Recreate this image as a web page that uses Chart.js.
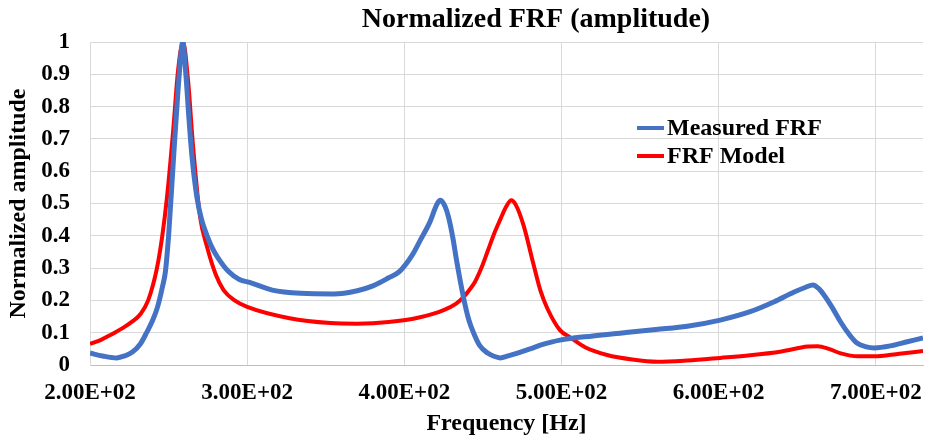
<!DOCTYPE html>
<html>
<head>
<meta charset="utf-8">
<script src="https://cdn.jsdelivr.net/npm/chart.js@4.4.0/dist/chart.umd.min.js"></script>
<style>
  html, body { margin: 0; padding: 0; background: #fff; }
  #wrap { width: 927px; height: 440px; position: relative; }
</style>
</head>
<body>
<div id="wrap"><canvas id="frfChart"></canvas></div>
<script>
// Measured FRF
const measuredFreq = [200, 208, 217, 222, 227, 232, 236, 240, 243, 246, 248, 250, 253, 256, 258, 259, 261, 263, 265, 268, 271, 274.5, 278, 281, 288, 295, 302, 316, 334, 355, 370, 380, 390, 397, 405, 410, 416, 421, 423, 426, 428, 431, 433, 437.6, 441, 444, 448, 453, 457, 461, 466, 472, 480, 487, 499, 520, 540, 560, 580, 601, 620, 635, 648, 655, 660, 664, 667, 672, 678, 683, 688, 694, 699, 710, 720, 730];
const measuredAmp = [0.037, 0.028, 0.022, 0.028, 0.04, 0.065, 0.10, 0.14, 0.18, 0.24, 0.29, 0.40, 0.63, 0.85, 0.97, 1.0, 0.9, 0.76, 0.64, 0.52, 0.45, 0.40, 0.36, 0.335, 0.29, 0.265, 0.255, 0.232, 0.222, 0.22, 0.23, 0.245, 0.27, 0.29, 0.34, 0.385, 0.44, 0.50, 0.51, 0.49, 0.46, 0.39, 0.33, 0.21, 0.14, 0.10, 0.06, 0.037, 0.027, 0.022, 0.028, 0.037, 0.05, 0.062, 0.077, 0.09, 0.10, 0.11, 0.12, 0.139, 0.165, 0.195, 0.226, 0.24, 0.248, 0.235, 0.217, 0.18, 0.13, 0.095, 0.068, 0.056, 0.053, 0.06, 0.072, 0.084];

// FRF model
const modelFreq = [200, 207, 213, 221, 227, 232, 237, 242.6, 246, 249, 253, 256, 259.2, 262.4, 265.6, 270, 274.5, 280, 285, 292, 300, 327, 353, 370, 390, 410, 425, 433, 437.6, 441, 445, 449, 453, 457, 461, 465, 468, 471, 476, 482, 486.6, 491, 499, 505.7, 515, 529, 545, 561, 580, 601, 620, 640, 656.7, 663, 670, 677.7, 688.5, 698.7, 715, 730];
const modelAmp = [0.065, 0.078, 0.093, 0.115, 0.135, 0.157, 0.2, 0.3, 0.4, 0.52, 0.73, 0.91, 1.0, 0.88, 0.675, 0.46, 0.365, 0.28, 0.232, 0.2, 0.18, 0.145, 0.13, 0.128, 0.133, 0.148, 0.17, 0.19, 0.21, 0.23, 0.258, 0.3, 0.352, 0.405, 0.45, 0.492, 0.51, 0.495, 0.43, 0.315, 0.23, 0.175, 0.108, 0.085, 0.055, 0.031, 0.017, 0.01, 0.014, 0.022, 0.03, 0.042, 0.057, 0.058, 0.05, 0.036, 0.027, 0.027, 0.035, 0.043];

const seriesLabels = ["Measured FRF", "FRF Model"];
const chartTitle = "Normalized FRF (amplitude)";
const xTitle = "Frequency [Hz]";
const yTitle = "Normalized amplitude";

const serif = "'Liberation Serif', 'Times New Roman', serif";

function toPoints(xs, ys) {
  return xs.map((x, i) => ({ x: x, y: ys[i] }));
}

// 2.00E+02 style labels
function sciLabel(v) {
  const parts = Number(v).toExponential(2).split("e");
  const exp = parseInt(parts[1], 10);
  const sign = exp < 0 ? "-" : "+";
  return parts[0] + "E" + sign + String(Math.abs(exp)).padStart(2, "0");
}

// title + in-plot legend
const overlay = {
  id: "overlay",
  afterDraw(chart) {
    const ctx = chart.ctx;
    ctx.save();
    ctx.fillStyle = "#000";
    ctx.font = "bold 28px " + serif;
    ctx.textAlign = "center";
    ctx.textBaseline = "middle";
    ctx.fillText(chartTitle, 536, 20);

    ctx.font = "bold 24px " + serif;
    ctx.textAlign = "left";
    chart.data.datasets.forEach((ds, i) => {
      const y = 128 + i * 28;
      ctx.strokeStyle = ds.borderColor;
      ctx.lineWidth = 4;
      ctx.beginPath();
      ctx.moveTo(637, y);
      ctx.lineTo(664, y);
      ctx.stroke();
      ctx.fillText(ds.label, 667, y + 1);
    });
    ctx.restore();
  }
};

const ctx = document.getElementById("frfChart").getContext("2d");
new Chart(ctx, {
  type: "line",
  data: {
    datasets: [
      {
        label: seriesLabels[0],
        data: toPoints(measuredFreq, measuredAmp),
        borderColor: "#4472C4",
        borderWidth: 5,
        pointRadius: 0,
        cubicInterpolationMode: "monotone"
      },
      {
        label: seriesLabels[1],
        data: toPoints(modelFreq, modelAmp),
        borderColor: "#FF0000",
        borderWidth: 4,
        pointRadius: 0,
        cubicInterpolationMode: "monotone"
      }
    ]
  },
  options: {
    responsive: true,
    maintainAspectRatio: false,
    animation: false,
    layout: { padding: { top: 42, right: 4, left: 0, bottom: 0 } },
    plugins: {
      legend: { display: false },
      title: { display: false },
      tooltip: { enabled: false }
    },
    scales: {
      x: {
        type: "linear",
        min: 200,
        max: 730,
        afterBuildTicks(scale) {
          const out = [];
          for (let v = 200; v <= 700; v += 100) out.push({ value: v });
          scale.ticks = out;
        },
        afterFit(scale) {
          scale.height = 75;
          scale.paddingLeft = 0;
          scale.paddingRight = 0;
        },
        ticks: {
          stepSize: 100,
          padding: 14,
          color: "#000",
          maxRotation: 0,
          autoSkip: false,
          font: { family: serif, size: 23, weight: "bold" },
          callback: v => sciLabel(v)
        },
        grid: { color: "#d9d9d9", lineWidth: 1, drawTicks: false },
        border: { color: "#bfbfbf", width: 1 },
        title: {
          display: true,
          text: xTitle,
          color: "#000",
          font: { family: serif, size: 24, weight: "bold" },
          padding: { top: 0, bottom: 2 }
        }
      },
      y: {
        min: 0,
        max: 1,
        afterFit(scale) { scale.width = 90; },
        ticks: {
          stepSize: 0.1,
          padding: 20,
          color: "#000",
          font: { family: serif, size: 23, weight: "bold" },
          callback: v => String(+v.toFixed(1))
        },
        grid: { color: "#d9d9d9", lineWidth: 1, drawTicks: false },
        border: { color: "#d9d9d9", width: 1 },
        title: {
          display: true,
          text: yTitle,
          color: "#000",
          font: { family: serif, size: 24, weight: "bold" },
          padding: { top: 4, bottom: 0 }
        }
      }
    }
  },
  plugins: [overlay]
});
</script>
</body>
</html>
